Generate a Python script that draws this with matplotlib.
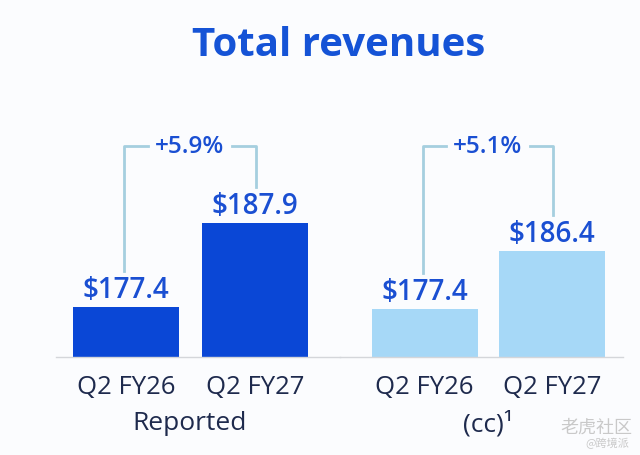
import matplotlib
matplotlib.use("Agg")
import matplotlib.pyplot as plt
from matplotlib.lines import Line2D

# data
categories = ["Q2 FY26", "Q2 FY27"]
reported = [177.4, 187.9]
constant_cc = [177.4, 186.4]
growth = ["+5.9%", "+5.1%"]
group_names = ["Reported", "(cc)¹"]

dark_blue = "#0a47d6"
light_blue = "#a6d8f7"
label_blue = "#1a4fd2"
bracket_col = "#a5cfdf"
navy = "#1e2a4d"
bg = "#fbfcfe"

plt.rcParams['font.family'] = ['Open Sans', 'DejaVu Sans']

W, H = 640, 456
fig = plt.figure(figsize=(6.4, 4.56), dpi=100, facecolor=bg)

base_px = 358   # baseline from top
top_px = 100
# (left px, right px, bar centres px, y-min, px per unit)
panels = [
    (56, 340, (126, 255), 171.15, 8.0, reported, dark_blue),
    (340, 623, (424.5, 552), 169.95, 6.44, constant_cc, light_blue),
]

def fx(px):
    return px / W

def fy(py):
    return 1 - py / H

axes = []
for i, (l, r, (c0, c1), ymin, ppu, vals, col) in enumerate(panels):
    ax = fig.add_axes([fx(l), fy(base_px), fx(r - l), (base_px - top_px) / H])
    ax.set_facecolor("none")
    unit = c1 - c0
    ax.set_xlim(-(c0 - l) / unit, 1 + (r - c1) / unit)
    ax.set_ylim(ymin, ymin + (base_px - top_px) / ppu)
    x = [0, 1]
    bars = ax.bar(x, vals, width=106 / unit, bottom=0, color=col)
    for s in ["top", "left", "right"]:
        ax.spines[s].set_visible(False)
    ax.spines["bottom"].set_color("#d4d6da")
    ax.spines["bottom"].set_linewidth(1.0)
    ax.set_yticks([])
    ax.set_xticks(x)
    ax.set_xticklabels(categories, fontsize=18.5, color=navy)
    ax.tick_params(axis="x", length=0, pad=12)
    for xi, v in zip(x, vals):
        ax.annotate(f"${v}", (xi, v), xytext=(0, 2), textcoords="offset points",
                    ha="center", va="bottom", fontsize=20, fontweight="semibold",
                    color=label_blue)
    # growth bracket, drawn in pixel space from the bar tops
    pts = [ax.transData.transform((xi, v)) for xi, v in zip(x, vals)]
    ytop = fy(147)
    lx, ly = fx(pts[0][0] - 2), (pts[0][1] + 36) / H
    rx, ry = fx(pts[1][0] + 1), (pts[1][1] + 36) / H
    mid = (lx + rx) / 2
    gap = 42 / W
    fig.add_artist(Line2D([lx, lx, mid - gap], [ly, ytop, ytop], color=bracket_col, lw=2))
    fig.add_artist(Line2D([mid + gap, rx, rx], [ytop, ytop, ry], color=bracket_col, lw=2))
    fig.text(mid, ytop, growth[i], ha="center", va="center", fontsize=17.5,
             fontweight="semibold", color=label_blue)
    fig.text(mid, fy(424), group_names[i], ha="center", va="center",
             fontsize=19, color=navy)
    axes.append(ax)

fig.text(fx(339), fy(45), "Total revenues", ha="center", va="center",
         fontsize=29, fontweight="bold", color="#1553d6")

# watermark
fig.text(fx(596), fy(428), "老虎社区", ha="center", va="center", fontsize=13,
         color="#c9c9c9", family=['Noto Sans CJK SC', 'DejaVu Sans'])
fig.text(fx(607), fy(443), "@跨境派", ha="center", va="center", fontsize=8,
         color="#c9c9c9", family=['Noto Sans CJK SC', 'DejaVu Sans'])

fig.savefig("out.png", dpi=100, facecolor=bg)
